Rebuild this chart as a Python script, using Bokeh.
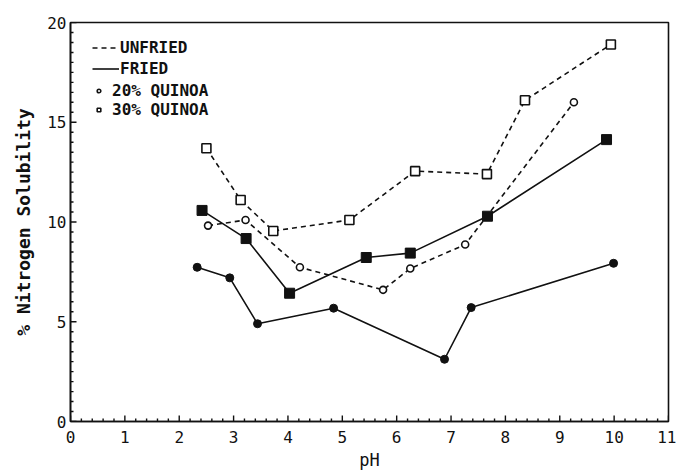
from bokeh.plotting import figure
from bokeh.models import Range1d, FixedTicker, Legend, LegendItem
from bokeh.embed import file_html
from bokeh.resources import INLINE

# Data
unfried30_ph = [2.50, 3.13, 3.73, 5.13, 6.34, 7.66, 8.36, 9.94]
unfried30_ns = [13.7, 11.1, 9.55, 10.1, 12.55, 12.4, 16.1, 18.9]

unfried20_ph = [2.53, 3.22, 4.22, 5.75, 6.25, 7.26, 9.26]
unfried20_ns = [9.82, 10.1, 7.73, 6.6, 7.67, 8.87, 16.0]

fried30_ph = [2.42, 3.23, 4.03, 5.44, 6.25, 7.67, 9.86]
fried30_ns = [10.58, 9.17, 6.43, 8.22, 8.44, 10.29, 14.13]

fried20_ph = [2.33, 2.93, 3.44, 4.84, 6.88, 7.37, 9.99]
fried20_ns = [7.73, 7.2, 4.9, 5.68, 3.12, 5.71, 7.93]

x_ticks = list(range(0, 12))
x_minor = [round(i * 0.2, 1) for i in range(56)]
y_ticks = [0, 5, 10, 15, 20]
y_minor = [i * 0.5 for i in range(41)]

FONT = "DejaVu Sans Mono"
INK = "#111111"

X0, X1, Y0, Y1 = 0, 11, 0, 20
FRAME_W, FRAME_H = 598, 399

p = figure(frame_width=FRAME_W, frame_height=FRAME_H,
           output_backend="svg", toolbar_location=None,
           x_range=Range1d(X0, X1), y_range=Range1d(Y0, Y1),
           min_border_left=70, min_border_right=8, min_border_top=22, min_border_bottom=40)
p.xgrid.visible = False
p.ygrid.visible = False
p.outline_line_color = INK
p.outline_line_width = 1.6
p.background_fill_color = "white"
p.border_fill_color = "white"

for ax in (p.xaxis[0], p.yaxis[0]):
    ax.axis_line_color = INK
    ax.axis_line_width = 1.6
    ax.major_tick_in = 0
    ax.major_tick_out = 0
    ax.minor_tick_in = 0
    ax.minor_tick_out = 0
    ax.major_label_text_font = FONT
    ax.major_label_text_font_size = "16px"
    ax.major_label_text_color = INK
    ax.axis_label_text_font = FONT
    ax.axis_label_text_font_style = "normal"
    ax.axis_label_text_color = INK

p.xaxis.ticker = FixedTicker(ticks=x_ticks, minor_ticks=x_minor)
p.yaxis.ticker = FixedTicker(ticks=y_ticks, minor_ticks=y_minor)
p.xaxis.major_label_standoff = 9
p.yaxis.major_label_standoff = 4
p.xaxis.axis_label = "pH"
p.xaxis.axis_label_text_font_size = "17px"
p.xaxis.axis_label_standoff = 4
p.yaxis.axis_label = "% Nitrogen Solubility"
p.yaxis.axis_label_text_font_size = "18px"
p.yaxis.axis_label_text_font_style = "bold"
p.yaxis.axis_label_standoff = 10

# inward tick marks (drawn as short segments at the tick values)
px_x = FRAME_W / (X1 - X0)
px_y = FRAME_H / (Y1 - Y0)
MAJ, MIN = 6, 3
xm = [t for t in x_minor if t not in x_ticks]
ym = [t for t in y_minor if t not in y_ticks]
p.segment(x0=x_ticks, y0=[Y0] * len(x_ticks), x1=x_ticks, y1=[Y0 + MAJ / px_y] * len(x_ticks),
          line_color=INK, line_width=1.4)
p.segment(x0=xm, y0=[Y0] * len(xm), x1=xm, y1=[Y0 + MIN / px_y] * len(xm),
          line_color=INK, line_width=1.4)
p.segment(x0=[X0] * len(y_ticks), y0=y_ticks, x1=[X0 + MAJ / px_x] * len(y_ticks), y1=y_ticks,
          line_color=INK, line_width=1.4)
p.segment(x0=[X0] * len(ym), y0=ym, x1=[X0 + MIN / px_x] * len(ym), y1=ym,
          line_color=INK, line_width=1.4)

DASH = "5 4"
LW = 1.6

# Unfried, 30% quinoa
r_u30_line = p.line(unfried30_ph, unfried30_ns, line_color=INK, line_width=LW, line_dash=DASH)
r_u30_pts = p.scatter(unfried30_ph, unfried30_ns, marker="square", size=9, fill_color="white",
                      line_color=INK, line_width=1.6)
# Unfried, 20% quinoa
p.line(unfried20_ph, unfried20_ns, line_color=INK, line_width=LW, line_dash=DASH)
r_u20_pts = p.scatter(unfried20_ph, unfried20_ns, marker="circle", size=7, fill_color="white",
                      line_color=INK, line_width=1.6)
# Fried, 30% quinoa
r_f30_line = p.line(fried30_ph, fried30_ns, line_color=INK, line_width=LW)
p.scatter(fried30_ph, fried30_ns, marker="square", size=10, fill_color=INK, line_color=INK)
# Fried, 20% quinoa
p.line(fried20_ph, fried20_ns, line_color=INK, line_width=LW)
p.scatter(fried20_ph, fried20_ns, marker="circle", size=8, fill_color=INK, line_color=INK)

def style_legend(lg):
    lg.border_line_color = None
    lg.background_fill_alpha = 0
    lg.padding = 0
    lg.margin = 0
    lg.glyph_height = 15
    lg.label_height = 15
    lg.label_text_font = FONT
    lg.label_text_font_style = "bold"
    lg.label_text_font_size = "16px"
    lg.label_text_color = INK

lg1 = Legend(items=[LegendItem(label="UNFRIED", renderers=[r_u30_line]),
                    LegendItem(label="FRIED", renderers=[r_f30_line])],
             location=(22, 343))
style_legend(lg1)
lg1.spacing = 2
lg1.glyph_width = 27
lg1.label_standoff = 1

lg2 = Legend(items=[LegendItem(label="20% QUINOA", renderers=[r_u20_pts]),
                    LegendItem(label="30% QUINOA", renderers=[r_u30_pts])],
             location=(24, 302))
style_legend(lg2)
lg2.spacing = 0
lg2.glyph_width = 9
lg2.label_standoff = 9

p.add_layout(lg1, "center")
p.add_layout(lg2, "center")

open("out.html", "w").write(file_html(p, INLINE))
